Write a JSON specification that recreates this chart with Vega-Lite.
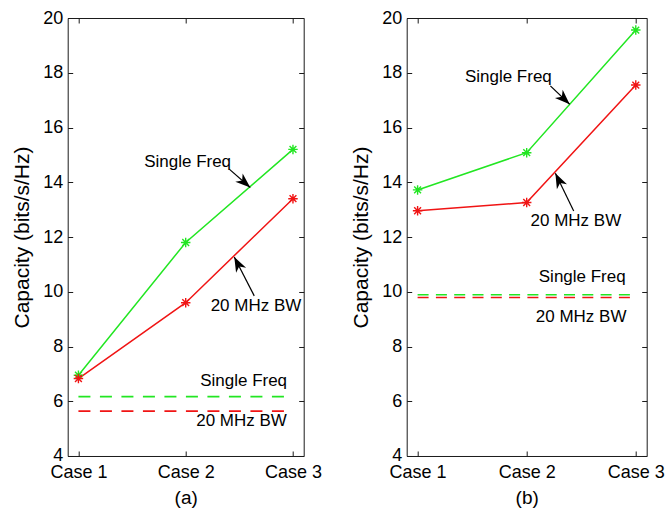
{
  "$schema": "https://vega.github.io/schema/vega-lite/v6.json",
  "padding": {"left": 10.7, "top": 8, "right": 0, "bottom": 0},
  "bounds": "flush",
  "spacing": 103,
  "datasets": {
    "lines": [
      {"panel": "a", "series": "Single Freq", "case": 1, "capacity": 6.95},
      {"panel": "a", "series": "Single Freq", "case": 2, "capacity": 11.8},
      {"panel": "a", "series": "Single Freq", "case": 3, "capacity": 15.2},
      {"panel": "a", "series": "20 MHz BW", "case": 1, "capacity": 6.83},
      {"panel": "a", "series": "20 MHz BW", "case": 2, "capacity": 9.6},
      {"panel": "a", "series": "20 MHz BW", "case": 3, "capacity": 13.4},
      {"panel": "b", "series": "Single Freq", "case": 1, "capacity": 13.72},
      {"panel": "b", "series": "Single Freq", "case": 2, "capacity": 15.08},
      {"panel": "b", "series": "Single Freq", "case": 3, "capacity": 19.56},
      {"panel": "b", "series": "20 MHz BW", "case": 1, "capacity": 12.96},
      {"panel": "b", "series": "20 MHz BW", "case": 2, "capacity": 13.26},
      {"panel": "b", "series": "20 MHz BW", "case": 3, "capacity": 17.55}
    ],
    "flat": [
      {"panel": "a", "series": "Single Freq", "capacity": 6.17, "from": 1, "to": 3},
      {"panel": "a", "series": "20 MHz BW", "capacity": 5.64, "from": 1, "to": 3},
      {"panel": "b", "series": "Single Freq", "capacity": 9.89, "from": 1, "to": 3},
      {"panel": "b", "series": "20 MHz BW", "capacity": 9.79, "from": 1, "to": 3}
    ],
    "notes": [
      {"panel": "a", "label": "Single Freq", "x": 2.018, "y": 14.75},
      {"panel": "a", "label": "20 MHz BW", "x": 2.655, "y": 9.49},
      {"panel": "a", "label": "Single Freq", "x": 2.54, "y": 6.74},
      {"panel": "a", "label": "20 MHz BW", "x": 2.52, "y": 5.29},
      {"panel": "b", "label": "Single Freq", "x": 1.832, "y": 17.85},
      {"panel": "b", "label": "20 MHz BW", "x": 2.451, "y": 12.59},
      {"panel": "b", "label": "Single Freq", "x": 2.509, "y": 10.55},
      {"panel": "b", "label": "20 MHz BW", "x": 2.499, "y": 9.09}
    ],
    "arrows": [
      {"panel": "a", "label": "Single Freq", "tail_x": 2.406, "tail_y": 14.48, "tip_x": 2.602, "tip_y": 13.81},
      {"panel": "a", "label": "20 MHz BW", "tail_x": 2.639, "tail_y": 9.85, "tip_x": 2.453, "tip_y": 11.27},
      {"panel": "b", "label": "Single Freq", "tail_x": 2.217, "tail_y": 17.52, "tip_x": 2.394, "tip_y": 16.85},
      {"panel": "b", "label": "20 MHz BW", "tail_x": 2.431, "tail_y": 12.95, "tip_x": 2.263, "tip_y": 14.33}
    ]
  },
  "hconcat": [
    {
      "width": 236,
      "height": 438,
      "layer": [
        {
          "data": {"name": "flat"},
          "transform": [{"filter": "datum.panel === 'a'"}],
          "mark": {"type": "rule", "strokeDash": [12, 9.5], "strokeWidth": 1.6},
          "encoding": {
            "x": {"field": "from", "type": "quantitative", "scale": {"domain": [0.9, 3.1], "nice": false, "zero": false},
                  "axis": {"orient": "top", "labels": false, "title": null, "values": [1, 2, 3]}},
            "x2": {"field": "to"},
            "y": {"field": "capacity", "type": "quantitative", "scale": {"domain": [4, 20], "nice": false, "zero": false},
                  "axis": {"orient": "right", "labels": false, "title": null, "values": [4, 6, 8, 10, 12, 14, 16, 18, 20]}},
            "color": {"field": "series", "type": "nominal", "scale": {"domain": ["Single Freq", "20 MHz BW"], "range": ["#22e622", "#f01414"]}, "legend": null}
          }
        },
        {
          "data": {"name": "lines"},
          "transform": [{"filter": "datum.panel === 'a'"}],
          "mark": {"type": "line", "strokeWidth": 1.5},
          "encoding": {
            "x": {"field": "case", "type": "quantitative", "scale": {"domain": [0.9, 3.1], "nice": false, "zero": false},
                  "axis": {"orient": "bottom", "values": [1, 2, 3], "labelExpr": "'Case ' + datum.value", "labelPadding": 12.7, "title": "(a)", "titleFontSize": 19, "titlePadding": 7}},
            "y": {"field": "capacity", "type": "quantitative", "scale": {"domain": [4, 20], "nice": false, "zero": false},
                  "axis": {"orient": "left", "values": [4, 6, 8, 10, 12, 14, 16, 18, 20], "labelPadding": 10, "title": "Capacity (bits/s/Hz)", "titleFontSize": 21, "titlePadding": 10}},
            "color": {"field": "series", "type": "nominal", "scale": {"domain": ["Single Freq", "20 MHz BW"], "range": ["#22e622", "#f01414"]}, "legend": null},
            "order": {"field": "case"}
          }
        },
        {
          "data": {"name": "lines"},
          "transform": [{"filter": "datum.panel === 'a'"}],
          "mark": {"type": "point", "shape": "M-1,0L1,0M0,-1L0,1M-0.72,-0.72L0.72,0.72M-0.72,0.72L0.72,-0.72", "filled": false, "size": 90, "strokeWidth": 1.4, "opacity": 1},
          "encoding": {
            "x": {"field": "case", "type": "quantitative", "scale": {"domain": [0.9, 3.1], "nice": false, "zero": false}, "axis": null},
            "y": {"field": "capacity", "type": "quantitative", "scale": {"domain": [4, 20], "nice": false, "zero": false}, "axis": null},
            "color": {"field": "series", "type": "nominal", "scale": {"domain": ["Single Freq", "20 MHz BW"], "range": ["#22e622", "#f01414"]}, "legend": null}
          }
        },
        {
          "data": {"name": "notes"},
          "transform": [{"filter": "datum.panel === 'a'"}],
          "mark": {"type": "text", "font": "Liberation Sans", "fontSize": 17, "color": "#000", "align": "center", "baseline": "middle"},
          "encoding": {
            "x": {"field": "x", "type": "quantitative", "scale": {"domain": [0.9, 3.1], "nice": false, "zero": false}, "axis": null},
            "y": {"field": "y", "type": "quantitative", "scale": {"domain": [4, 20], "nice": false, "zero": false}, "axis": null},
            "text": {"field": "label"}
          }
        },
        {
          "data": {"name": "arrows"},
          "transform": [{"filter": "datum.panel === 'a'"}],
          "mark": {"type": "rule", "color": "#000", "strokeWidth": 1.2},
          "encoding": {
            "x": {"field": "tail_x", "type": "quantitative", "scale": {"domain": [0.9, 3.1], "nice": false, "zero": false}, "axis": null},
            "y": {"field": "tail_y", "type": "quantitative", "scale": {"domain": [4, 20], "nice": false, "zero": false}, "axis": null},
            "x2": {"field": "tip_x"},
            "y2": {"field": "tip_y"}
          }
        },
        {
          "data": {"name": "arrows"},
          "transform": [{"filter": "datum.panel === 'a' && datum.label === 'Single Freq'"}],
          "mark": {"type": "point", "shape": "M0,0L0.6,1.6L0,1.15L-0.6,1.6Z", "filled": true, "color": "#000", "size": 350, "opacity": 1, "angle": 131},
          "encoding": {
            "x": {"field": "tip_x", "type": "quantitative", "scale": {"domain": [0.9, 3.1], "nice": false, "zero": false}, "axis": null},
            "y": {"field": "tip_y", "type": "quantitative", "scale": {"domain": [4, 20], "nice": false, "zero": false}, "axis": null}
          }
        },
        {
          "data": {"name": "arrows"},
          "transform": [{"filter": "datum.panel === 'a' && datum.label === '20 MHz BW'"}],
          "mark": {"type": "point", "shape": "M0,0L0.6,1.6L0,1.15L-0.6,1.6Z", "filled": true, "color": "#000", "size": 350, "opacity": 1, "angle": -27},
          "encoding": {
            "x": {"field": "tip_x", "type": "quantitative", "scale": {"domain": [0.9, 3.1], "nice": false, "zero": false}, "axis": null},
            "y": {"field": "tip_y", "type": "quantitative", "scale": {"domain": [4, 20], "nice": false, "zero": false}, "axis": null}
          }
        }
      ]
    },
    {
      "width": 240,
      "height": 438,
      "layer": [
        {
          "data": {"name": "flat"},
          "transform": [{"filter": "datum.panel === 'b'"}],
          "mark": {"type": "rule", "strokeDash": [11, 7.3], "strokeWidth": 1.6},
          "encoding": {
            "x": {"field": "from", "type": "quantitative", "scale": {"domain": [0.9, 3.1], "nice": false, "zero": false},
                  "axis": {"orient": "top", "labels": false, "title": null, "values": [1, 2, 3]}},
            "x2": {"field": "to"},
            "y": {"field": "capacity", "type": "quantitative", "scale": {"domain": [4, 20], "nice": false, "zero": false},
                  "axis": {"orient": "right", "labels": false, "title": null, "values": [4, 6, 8, 10, 12, 14, 16, 18, 20]}},
            "color": {"field": "series", "type": "nominal", "scale": {"domain": ["Single Freq", "20 MHz BW"], "range": ["#22e622", "#f01414"]}, "legend": null}
          }
        },
        {
          "data": {"name": "lines"},
          "transform": [{"filter": "datum.panel === 'b'"}],
          "mark": {"type": "line", "strokeWidth": 1.5},
          "encoding": {
            "x": {"field": "case", "type": "quantitative", "scale": {"domain": [0.9, 3.1], "nice": false, "zero": false},
                  "axis": {"orient": "bottom", "values": [1, 2, 3], "labelExpr": "'Case ' + datum.value", "labelPadding": 12.7, "title": "(b)", "titleFontSize": 19, "titlePadding": 7}},
            "y": {"field": "capacity", "type": "quantitative", "scale": {"domain": [4, 20], "nice": false, "zero": false},
                  "axis": {"orient": "left", "values": [4, 6, 8, 10, 12, 14, 16, 18, 20], "labelPadding": 10, "title": "Capacity (bits/s/Hz)", "titleFontSize": 21, "titlePadding": 10}},
            "color": {"field": "series", "type": "nominal", "scale": {"domain": ["Single Freq", "20 MHz BW"], "range": ["#22e622", "#f01414"]}, "legend": null},
            "order": {"field": "case"}
          }
        },
        {
          "data": {"name": "lines"},
          "transform": [{"filter": "datum.panel === 'b'"}],
          "mark": {"type": "point", "shape": "M-1,0L1,0M0,-1L0,1M-0.72,-0.72L0.72,0.72M-0.72,0.72L0.72,-0.72", "filled": false, "size": 90, "strokeWidth": 1.4, "opacity": 1},
          "encoding": {
            "x": {"field": "case", "type": "quantitative", "scale": {"domain": [0.9, 3.1], "nice": false, "zero": false}, "axis": null},
            "y": {"field": "capacity", "type": "quantitative", "scale": {"domain": [4, 20], "nice": false, "zero": false}, "axis": null},
            "color": {"field": "series", "type": "nominal", "scale": {"domain": ["Single Freq", "20 MHz BW"], "range": ["#22e622", "#f01414"]}, "legend": null}
          }
        },
        {
          "data": {"name": "notes"},
          "transform": [{"filter": "datum.panel === 'b'"}],
          "mark": {"type": "text", "font": "Liberation Sans", "fontSize": 17, "color": "#000", "align": "center", "baseline": "middle"},
          "encoding": {
            "x": {"field": "x", "type": "quantitative", "scale": {"domain": [0.9, 3.1], "nice": false, "zero": false}, "axis": null},
            "y": {"field": "y", "type": "quantitative", "scale": {"domain": [4, 20], "nice": false, "zero": false}, "axis": null},
            "text": {"field": "label"}
          }
        },
        {
          "data": {"name": "arrows"},
          "transform": [{"filter": "datum.panel === 'b'"}],
          "mark": {"type": "rule", "color": "#000", "strokeWidth": 1.2},
          "encoding": {
            "x": {"field": "tail_x", "type": "quantitative", "scale": {"domain": [0.9, 3.1], "nice": false, "zero": false}, "axis": null},
            "y": {"field": "tail_y", "type": "quantitative", "scale": {"domain": [4, 20], "nice": false, "zero": false}, "axis": null},
            "x2": {"field": "tip_x"},
            "y2": {"field": "tip_y"}
          }
        },
        {
          "data": {"name": "arrows"},
          "transform": [{"filter": "datum.panel === 'b' && datum.label === 'Single Freq'"}],
          "mark": {"type": "point", "shape": "M0,0L0.6,1.6L0,1.15L-0.6,1.6Z", "filled": true, "color": "#000", "size": 350, "opacity": 1, "angle": 133.5},
          "encoding": {
            "x": {"field": "tip_x", "type": "quantitative", "scale": {"domain": [0.9, 3.1], "nice": false, "zero": false}, "axis": null},
            "y": {"field": "tip_y", "type": "quantitative", "scale": {"domain": [4, 20], "nice": false, "zero": false}, "axis": null}
          }
        },
        {
          "data": {"name": "arrows"},
          "transform": [{"filter": "datum.panel === 'b' && datum.label === '20 MHz BW'"}],
          "mark": {"type": "point", "shape": "M0,0L0.6,1.6L0,1.15L-0.6,1.6Z", "filled": true, "color": "#000", "size": 350, "opacity": 1, "angle": -26},
          "encoding": {
            "x": {"field": "tip_x", "type": "quantitative", "scale": {"domain": [0.9, 3.1], "nice": false, "zero": false}, "axis": null},
            "y": {"field": "tip_y", "type": "quantitative", "scale": {"domain": [4, 20], "nice": false, "zero": false}, "axis": null}
          }
        }
      ]
    }
  ],
  "config": {
    "font": "Liberation Sans",
    "background": "#ffffff",
    "view": {"stroke": "#1a1a1a", "strokeWidth": 1},
    "axis": {
      "grid": false,
      "domain": false,
      "labelFont": "Liberation Sans",
      "labelFontSize": 18,
      "labelColor": "#000000",
      "tickColor": "#1a1a1a",
      "tickSize": -5,
      "tickWidth": 1,
      "titleFont": "Liberation Sans",
      "titleFontWeight": "normal",
      "titleColor": "#000000"
    }
  }
}
